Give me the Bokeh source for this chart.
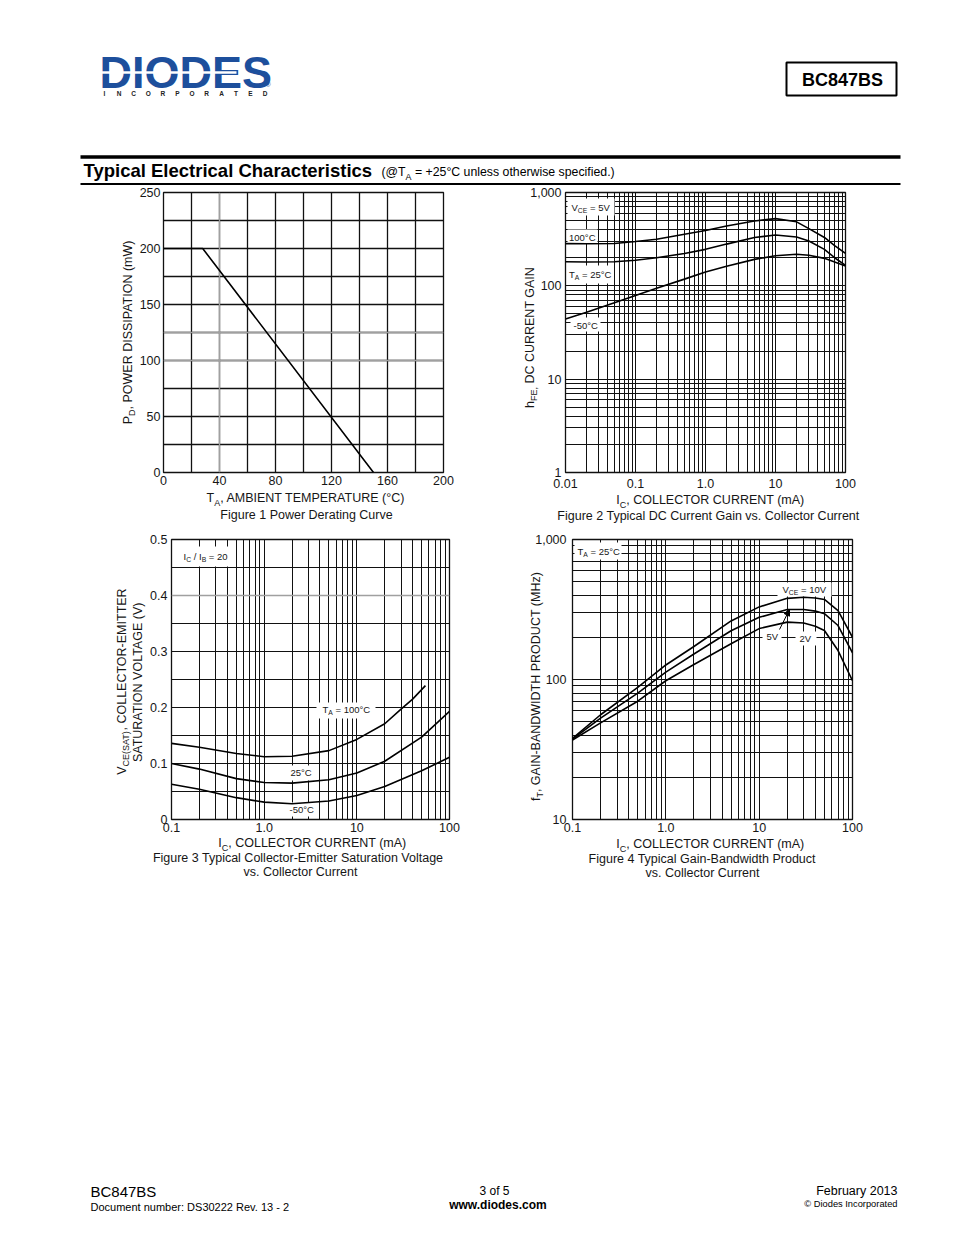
import math
from bokeh.plotting import figure
from bokeh.models import (Range1d, Label, BoxAnnotation, FixedTicker, Arrow, NormalHead,
                          GridBox, Spacer, Span)
from bokeh.layouts import column, row
from bokeh.core.properties import value
from bokeh.embed import file_html
from bokeh.resources import INLINE

# ---------------- data ----------------
# Figure 1: power derating
ta_c = [0, 28, 150]
pd_mw = [200, 200, 0]

# Figure 2: DC current gain vs collector current (VCE = 5V)
ic_hfe = [0.01, 0.02, 0.05, 0.1, 0.2, 0.5, 1, 2, 5, 10, 20, 30, 50, 70, 100]
hfe_100c = [283, 282, 284, 298, 315, 357, 392, 438, 495, 525, 485, 410, 330, 270, 223]
hfe_25c = [181, 180, 181, 188, 200, 222, 246, 280, 330, 350, 333, 302, 246, 200, 166]
hfe_m50c = [44, 52, 66, 79, 94, 118, 141, 162, 192, 210, 218, 213, 197, 180, 163]

# Figure 3: VCE(SAT) vs collector current (IC/IB = 20)
ic_sat_100c = [0.1, 0.2, 0.5, 1, 2, 5, 10, 20, 30, 40, 55]
vsat_100c = [0.136, 0.129, 0.118, 0.112, 0.113, 0.123, 0.143, 0.171, 0.197, 0.215, 0.239]
ic_sat = [0.1, 0.2, 0.5, 1, 2, 5, 10, 20, 50, 100]
vsat_25c = [0.100, 0.090, 0.073, 0.066, 0.065, 0.071, 0.083, 0.104, 0.147, 0.193]
vsat_m50c = [0.063, 0.054, 0.039, 0.031, 0.028, 0.033, 0.043, 0.059, 0.087, 0.111]

# Figure 4: fT vs collector current
ic_ft = [0.1, 0.2, 0.5, 1, 2, 5, 10, 20, 30, 40, 50, 70, 100]
ft_10v = [38, 56, 88, 127, 172, 262, 330, 380, 387, 382, 373, 311, 200]
ft_5v = [37.5, 53, 80, 113, 152, 223, 278, 316, 316, 308, 295, 243, 155]
ft_2v = [37, 49, 70, 98, 128, 180, 231, 257, 253, 240, 224, 161, 98]

# tick labels
fig1_xlabels = {0: "0", 40: "40", 80: "80", 120: "120", 160: "160", 200: "200"}
fig1_ylabels = {0: "0", 50: "50", 100: "100", 150: "150", 200: "200", 250: "250"}
fig2_xlabels = {0.01: "0.01", 0.1: "0.1", 1: "1.0", 10: "10", 100: "100"}
fig2_ylabels = {1: "1", 10: "10", 100: "100", 1000: "1,000"}
fig3_xlabels = {0.1: "0.1", 1: "1.0", 10: "10", 100: "100"}
fig3_ylabels = {0: "0", 0.1: "0.1", 0.2: "0.2", 0.3: "0.3", 0.4: "0.4", 0.5: "0.5"}
fig4_xlabels = {0.1: "0.1", 1: "1.0", 10: "10", 100: "100"}
fig4_ylabels = {10: "10", 100: "100", 1000: "1,000"}

# ---------------- helpers ----------------
FONT = "Liberation Sans"
TXT = "#161616"

WID = {' ': 278, '!': 278, '(': 333, ')': 333, ',': 278, '-': 333, '.': 278, '/': 278,
       ':': 278, '=': 584, '+': 584, '°': 400, '@': 1015, '©': 737, '®': 737}
for ch in "0123456789":
    WID[ch] = 556
for ch, w in zip("ABCDEFGHIJKLMNOPQRSTUVWXYZ",
                 [667, 667, 722, 722, 667, 611, 778, 722, 278, 500, 667, 556, 833, 722, 778, 667, 778,
                  722, 667, 611, 722, 667, 944, 667, 667, 611]):
    WID[ch] = w
for ch, w in zip("abcdefghijklmnopqrstuvwxyz",
                 [556, 556, 500, 556, 556, 278, 556, 556, 222, 222, 500, 222, 833, 556, 556, 556, 556,
                  333, 500, 278, 556, 500, 722, 500, 500, 500]):
    WID[ch] = w


def tw(text, size):
    return sum(WID.get(ch, 556) for ch in text) * size / 1000.0


def frame_conv(left, top, w, h, xr, yr, xlog=False, ylog=False):
    def f(px, py):
        fx = (px - left) / w
        fy = (top + h - py) / h
        if xlog:
            a, b = math.log10(xr[0]), math.log10(xr[1])
            x = 10 ** (a + fx * (b - a))
        else:
            x = xr[0] + fx * (xr[1] - xr[0])
        if ylog:
            a, b = math.log10(yr[0]), math.log10(yr[1])
            y = 10 ** (a + fy * (b - a))
        else:
            y = yr[0] + fy * (yr[1] - yr[0])
        return x, y
    return f


def ident(px, py):
    return px, py


def rich(p, fr, bx, by, segs, size, align="left", vertical=False, color=TXT, bold=False,
         sub_scale=0.72, sub_drop=0.26):
    """Text with subscripts; (bx, by) is the baseline start/centre in page pixels."""
    sub_size = size * sub_scale
    widths = [tw(t, sub_size if s else size) for t, s in segs]
    total = sum(widths)
    acc = -{"left": 0, "center": total / 2, "right": total}[align]
    for (t, s), w in zip(segs, widths):
        sz = sub_size if s else size
        lead = len(t) - len(t.lstrip(" "))
        body = t.strip(" ")
        off = acc + lead * 278 * sz / 1000.0
        if body:
            drop = sub_drop * size if s else 0
            if vertical:
                x = bx + drop - 0.35 * sz
                y = by - off
                ang = math.pi / 2
            else:
                x = bx + off
                y = by + drop - 0.35 * sz
                ang = 0
            dx, dy = fr(x, y)
            p.add_layout(Label(x=dx, y=dy, text=body, text_font=FONT,
                               text_font_size="%.1fpx" % sz, text_color=color,
                               text_align="left", text_baseline="middle", angle=ang,
                               text_font_style="bold" if bold else "normal"))
        acc += w


def wbox(p, fr, l, t, r, b):
    x0, y0 = fr(l, b)
    x1, y1 = fr(r, t)
    p.add_layout(BoxAnnotation(left=x0, right=x1, bottom=y0, top=y1, fill_color="white",
                               fill_alpha=1.0, line_color=None, level="underlay"))


def grey_rule(p, loc, dim):
    p.add_layout(Span(location=loc, dimension=dim, line_color="#a0a0a0", line_width=1.3,
                      level="underlay"))


def style(p, xt, xm, xl, yt, ym, yl, xstand, ystand, gw=1.0):
    xtk = FixedTicker(ticks=xt, minor_ticks=xm)
    ytk = FixedTicker(ticks=yt, minor_ticks=ym)
    p.xaxis.ticker = xtk
    p.yaxis.ticker = ytk
    p.xgrid.ticker = xtk
    p.ygrid.ticker = ytk
    p.xaxis.major_label_overrides = xl
    p.yaxis.major_label_overrides = yl
    p.xaxis.major_label_standoff = xstand
    p.yaxis.major_label_standoff = ystand
    for ax in (p.xaxis, p.yaxis):
        ax.major_tick_in = 0
        ax.major_tick_out = 0
        ax.minor_tick_in = 0
        ax.minor_tick_out = 0
        ax.axis_line_color = None
        ax.major_label_text_font = FONT
        ax.major_label_text_font_size = "12.5px"
        ax.major_label_text_color = TXT
    for g in (p.xgrid, p.ygrid):
        g.grid_line_color = "#111111"
        g.grid_line_width = gw
        g.grid_line_alpha = 1.0
        g.minor_grid_line_color = "#111111"
        g.minor_grid_line_width = gw
        g.minor_grid_line_alpha = 1.0
    p.outline_line_color = "#111111"
    p.outline_line_width = 1.3
    p.border_fill_color = None


def decade_minors(lo_exp, hi_exp):
    return [m * 10 ** e for e in range(lo_exp, hi_exp) for m in range(2, 10)]


# ---------------- figure 1 ----------------
f1 = figure(width=500, height=344, x_range=Range1d(0, 200), y_range=Range1d(0, 250),
            toolbar_location=None, output_backend="svg", title=None,
            min_border_left=163, min_border_right=57, min_border_top=6, min_border_bottom=58)
style(f1, [0, 40, 80, 120, 160, 200], [20, 60, 100, 140, 180], fig1_xlabels,
      [0, 50, 100, 150, 200, 250], [25, 75, 125, 175, 225], fig1_ylabels, 3, 3, gw=1.3)
grey_rule(f1, 100, "width")
grey_rule(f1, 125, "width")
grey_rule(f1, 40, "height")
f1.line(ta_c, pd_mw, line_color="black", line_width=1.6)

# ---------------- figure 2 ----------------
f2 = figure(width=446, height=344, x_axis_type="log", y_axis_type="log",
            x_range=Range1d(0.01, 100), y_range=Range1d(1, 1000),
            toolbar_location=None, output_backend="svg", title=None,
            min_border_left=65, min_border_right=101, min_border_top=6, min_border_bottom=58)
style(f2, [0.01, 0.1, 1, 10, 100], decade_minors(-2, 2), fig2_xlabels,
      [1, 10, 100, 1000], decade_minors(0, 3), fig2_ylabels, 6, 4)
for ys in (hfe_100c, hfe_25c, hfe_m50c):
    f2.line(ic_hfe, ys, line_color="black", line_width=1.6)
c2 = frame_conv(565, 192, 280, 280, (0.01, 100), (1, 1000), True, True)
wbox(f2, c2, 567, 198, 614, 215)
wbox(f2, c2, 567, 229, 597, 243)
wbox(f2, c2, 567, 265, 612, 283)
wbox(f2, c2, 570, 317, 600, 331)
rich(f2, c2, 571, 210, [("V", 0), ("CE", 1), (" = 5V", 0)], 9.5)
rich(f2, c2, 568.5, 240, [("100°C", 0)], 9.5)
rich(f2, c2, 568.5, 277, [("T", 0), ("A", 1), (" = 25°C", 0)], 9.5)
rich(f2, c2, 573, 328, [("-50°C", 0)], 9.5)

# ---------------- figure 3 ----------------
f3 = figure(width=500, height=360, x_axis_type="log", x_range=Range1d(0.1, 100),
            y_range=Range1d(0, 0.5), toolbar_location=None, output_backend="svg", title=None,
            min_border_left=171, min_border_right=51, min_border_top=9, min_border_bottom=71)
style(f3, [0.1, 1, 10, 100], decade_minors(-1, 2), fig3_xlabels,
      [0, 0.1, 0.2, 0.3, 0.4, 0.5], [0.05, 0.15, 0.25, 0.35, 0.45], fig3_ylabels, 3, 4)
grey_rule(f3, 0.4, "width")
f3.line(ic_sat_100c, vsat_100c, line_color="black", line_width=1.6)
f3.line(ic_sat, vsat_25c, line_color="black", line_width=1.6)
f3.line(ic_sat, vsat_m50c, line_color="black", line_width=1.6)
c3 = frame_conv(171, 539, 278, 280, (0.1, 100), (0, 0.5), True, False)
wbox(f3, c3, 178, 546, 234, 566)
wbox(f3, c3, 316, 702, 375, 718)
wbox(f3, c3, 287, 765, 316, 780)
wbox(f3, c3, 286, 802, 317, 816)
rich(f3, c3, 183, 559, [("I", 0), ("C", 1), (" / I", 0), ("B", 1), (" = 20", 0)], 9.5)
rich(f3, c3, 322, 712, [("T", 0), ("A", 1), (" = 100°C", 0)], 9.5)
rich(f3, c3, 290, 775.5, [("25°C", 0)], 9.5)
rich(f3, c3, 289, 812, [("-50°C", 0)], 9.5)

# ---------------- figure 4 ----------------
f4 = figure(width=446, height=360, x_axis_type="log", y_axis_type="log",
            x_range=Range1d(0.1, 100), y_range=Range1d(10, 1000),
            toolbar_location=None, output_backend="svg", title=None,
            min_border_left=72, min_border_right=94, min_border_top=9, min_border_bottom=71)
style(f4, [0.1, 1, 10, 100], decade_minors(-1, 2), fig4_xlabels,
      [10, 100, 1000], decade_minors(1, 3), fig4_ylabels, 3, 6)
for ys in (ft_10v, ft_5v, ft_2v):
    f4.line(ic_ft, ys, line_color="black", line_width=1.6)
c4 = frame_conv(572, 539, 280, 280, (0.1, 100), (10, 1000), True, True)
wbox(f4, c4, 574, 542, 621, 559)
wbox(f4, c4, 777, 582, 831, 596)
wbox(f4, c4, 762, 629, 781, 643)
wbox(f4, c4, 795, 631, 816, 645)
rich(f4, c4, 577, 554, [("T", 0), ("A", 1), (" = 25°C", 0)], 9.5)
rich(f4, c4, 782, 592, [("V", 0), ("CE", 1), (" = 10V", 0)], 9.5)
rich(f4, c4, 766, 639, [("5V", 0)], 9.5)
rich(f4, c4, 799, 641, [("2V", 0)], 9.5)
ax0, ay0 = c4(779, 629)
ax1, ay1 = c4(789, 609)
f4.add_layout(Arrow(x_start=ax0, y_start=ay0, x_end=ax1, y_end=ay1, line_color="black",
                    line_width=1,
                    end=NormalHead(size=6, fill_color="black", line_color="black", line_width=1)))

# ---------------- page text layer (header, axis titles, captions, footer) ----------------
tp = figure(width=946, height=1225, x_range=Range1d(0, 946), y_range=Range1d(1225, 0),
            x_axis_type=None, y_axis_type=None, toolbar_location=None, output_backend="svg",
            min_border=0, title=None, outline_line_color=None,
            background_fill_color=None, border_fill_color=None)
tp.grid.visible = False

# header
tp.text(x=[99], y=[88 - 0.35 * 45], text=["DIODES"], text_font=value(FONT),
        text_font_size="45px", text_font_style="bold", text_color="#1d4f9c",
        text_align="left", text_baseline="middle")
tp.segment(x0=[100], y0=[72], x1=[236], y1=[72], line_color="white", line_width=2.5)
rich(tp, ident, 265, 86, [("®", 0)], 7, color="#1d4f9c")
for i, ch in enumerate("INCORPORATED"):
    rich(tp, ident, 104 + i * 14.6, 95, [(ch, 0)], 6.5, align="center", color="#222222",
         bold=True)
tp.quad(left=[786], right=[896], top=[62], bottom=[95], fill_color=None, line_color="black",
        line_width=2)
rich(tp, ident, 841, 85.5, [("BC847BS", 0)], 18, align="center", color="black", bold=True)
tp.segment(x0=[80], y0=[156.5], x1=[900], y1=[156.5], line_color="black", line_width=3.5)
tp.segment(x0=[80], y0=[183.5], x1=[900], y1=[183.5], line_color="black", line_width=2.2)
rich(tp, ident, 83, 176, [("Typical Electrical Characteristics", 0)], 18.5, color="black",
     bold=True)
rich(tp, ident, 381, 176, [("(@T", 0), ("A", 1), (" = +25°C unless otherwise specified.)", 0)],
     12.3, color="black")

# figure 1 titles
rich(tp, ident, 131.5, 331, [("P", 0), ("D", 1), (", POWER DISSIPATION (mW)", 0)], 12.5,
     align="center", vertical=True)
rich(tp, ident, 306, 502, [("T", 0), ("A", 1), (", AMBIENT TEMPERATURE (°C)", 0)], 12.5,
     align="center")
rich(tp, ident, 306, 518.5, [("Figure 1 Power Derating Curve", 0)], 12.5, align="center")

# figure 2 titles
rich(tp, ident, 533.5, 337, [("h", 0), ("FE,", 1), (" DC CURRENT GAIN", 0)], 12.5,
     align="center", vertical=True)
rich(tp, ident, 710, 504, [("I", 0), ("C", 1), (", COLLECTOR CURRENT (mA)", 0)], 12.5,
     align="center")
rich(tp, ident, 710, 520, [("Figure 2  Typical DC Current Gain vs. Collector Current", 0)], 12.5,
     align="center")

# figure 3 titles
rich(tp, ident, 125.5, 681, [("V", 0), ("CE(SAT)", 1), (", COLLECTOR-EMITTER", 0)], 12.5,
     align="center", vertical=True)
rich(tp, ident, 141.5, 680, [("SATURATION VOLTAGE (V)", 0)], 12.5, align="center",
     vertical=True)
rich(tp, ident, 312, 847, [("I", 0), ("C", 1), (", COLLECTOR CURRENT (mA)", 0)], 12.5,
     align="center")
rich(tp, ident, 300, 862, [("Figure 3  Typical Collector-Emitter Saturation Voltage", 0)], 12.5,
     align="center")
rich(tp, ident, 300, 876, [("vs. Collector Current", 0)], 12.5, align="center")

# figure 4 titles
rich(tp, ident, 539.5, 686, [("f", 0), ("T", 1), (", GAIN-BANDWIDTH PRODUCT (MHz)", 0)], 12.5,
     align="center", vertical=True)
rich(tp, ident, 710, 848, [("I", 0), ("C", 1), (", COLLECTOR CURRENT (mA)", 0)], 12.5,
     align="center")
rich(tp, ident, 702, 863, [("Figure 4 Typical Gain-Bandwidth Product", 0)], 12.5, align="center")
rich(tp, ident, 702, 877, [("vs. Collector Current", 0)], 12.5, align="center")

# footer
rich(tp, ident, 90, 1196, [("BC847BS", 0)], 15, color="black")
rich(tp, ident, 90, 1210, [("Document number: DS30222 Rev. 13 - 2", 0)], 11, color="black")
rich(tp, ident, 494, 1195, [("3 of 5", 0)], 12, align="center", color="black")
rich(tp, ident, 494, 1208.5, [("www.diodes.com", 0)], 12, align="center", color="black",
     bold=True)
rich(tp, ident, 897, 1195, [("February 2013", 0)], 12.5, align="right", color="black")
rich(tp, ident, 897, 1207, [("© Diodes Incorporated", 0)], 9.3, align="right", color="black")

charts = column(Spacer(width=946, height=186), row(f1, f2), row(f3, f4))
page = GridBox(children=[(charts, 0, 0), (tp, 0, 0)])
open("out.html", "w").write(file_html(page, INLINE, "BC847BS"))
